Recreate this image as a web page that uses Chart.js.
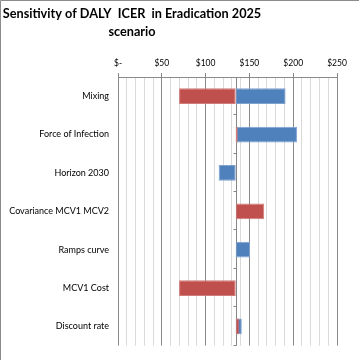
<!DOCTYPE html>
<html>
<head>
<meta charset="utf-8">
<script src="https://cdn.jsdelivr.net/npm/chart.js@4.4.1/dist/chart.umd.min.js"></script>
<style>
  html, body { margin: 0; padding: 0; background: #fff; }
  #wrap { width: 359px; height: 360px; position: relative; }
</style>
</head>
<body>
<div id="wrap"><canvas id="tornado"></canvas></div>
<script>
// dados do gráfico (tornado)
const categorias = ["Mixing", "Force of Infection", "Horizon 2030", "Covariance MCV1 MCV2", "Ramps curve", "MCV1 Cost", "Discount rate"];
const base = 134.4;
const valoresVermelho = [69.7, 136.7, null, 166.9, null, 69.7, 138.5];
const valoresAzul = [191.3, 204.3, 114.9, null, 150.8, null, 141.3];
const ticksX = [0, 50, 100, 150, 200, 250];

const fonte = "Lato, 'Liberation Sans', sans-serif";

function barras(vals) {
    return vals.map(v => v === null ? null : [base, v]);
}

// titulo e linha central desenhados por plugin
const extras = {
    id: "extras",
    beforeDatasetsDraw(chart) {
        const ctx = chart.ctx;
        const x = chart.scales.x;
        const px = Math.round(x.getPixelForValue(base)) + 0.5;
        ctx.save();
        ctx.strokeStyle = "#868686";
        ctx.lineWidth = 1;
        ctx.beginPath();
        ctx.moveTo(px, chart.chartArea.top);
        ctx.lineTo(px, chart.chartArea.bottom);
        const passo = (chart.chartArea.bottom - chart.chartArea.top) / categorias.length;
        for (let i = 1; i <= categorias.length; i++) {
            const py = Math.round(chart.chartArea.top + passo * i) - 0.5;
            ctx.moveTo(px - 3, py);
            ctx.lineTo(px, py);
        }
        ctx.stroke();
        ctx.restore();
    },
    afterDraw(chart) {
        const ctx = chart.ctx;
        ctx.save();
        ctx.strokeStyle = "#8c8c8c";
        ctx.beginPath();
        ctx.moveTo(0.5, chart.height);
        ctx.lineTo(0.5, 0.5);
        ctx.lineTo(chart.width, 0.5);
        ctx.stroke();
        ctx.fillStyle = "#000";
        ctx.font = "bold 12.7px " + fonte;
        ctx.textAlign = "center";
        ctx.textBaseline = "middle";
        ctx.fillText("Sensitivity of DALY  ICER  in Eradication 2025", 132, 14);
        ctx.fillText("scenario", 132, 32);
        ctx.restore();
    }
};

const ctx = document.getElementById("tornado").getContext("2d");
new Chart(ctx, {
    type: "bar",
    data: {
        labels: categorias,
        datasets: [{
            label: "Low",
            data: barras(valoresVermelho),
            backgroundColor: "#c0504d",
            borderColor: "#d27c79",
            borderWidth: 1,
            borderSkipped: false
        }, {
            label: "High",
            data: barras(valoresAzul),
            backgroundColor: "#4f81bd",
            borderColor: "#7ea2d0",
            borderWidth: 1,
            borderSkipped: false
        }]
    },
    options: {
        indexAxis: "y",
        responsive: true,
        maintainAspectRatio: false,
        animation: false,
        grouped: false,
        barPercentage: 0.41,
        categoryPercentage: 1,
        layout: { padding: { left: 0, right: 22, top: 0, bottom: 10 } },
        plugins: {
            legend: { display: false },
            tooltip: { enabled: false }
        },
        scales: {
            x: {
                position: "top",
                min: 0,
                max: 250,
                afterFit: s => { s.height = 77; },
                afterBuildTicks: s => {
                    const t = [];
                    for (let v = 0; v <= 250; v += 10) t.push({ value: v });
                    s.ticks = t;
                },
                ticks: {
                    autoSkip: false,
                    maxRotation: 0,
                    padding: 5,
                    color: "#000",
                    font: { family: fonte, size: 8.5 },
                    callback: v => ticksX.includes(v) ? (v === 0 ? "$-" : "$" + v) : ""
                },
                grid: {
                    color: c => (c.tick && c.tick.value % 50 === 0) ? "#8a8a8a" : "#d9d9d9",
                    tickColor: c => (c.tick && c.tick.value % 50 === 0) ? "#8a8a8a" : "rgba(0,0,0,0)",
                    tickLength: 4
                },
                border: { color: "#8a8a8a" }
            },
            y: {
                afterFit: s => { s.width = 118; },
                ticks: {
                    padding: 9,
                    color: "#000",
                    font: { family: fonte, size: 9 }
                },
                grid: { display: false, drawTicks: false, tickLength: 0 },
                border: { display: false }
            }
        }
    },
    plugins: [extras]
});
</script>
</body>
</html>
